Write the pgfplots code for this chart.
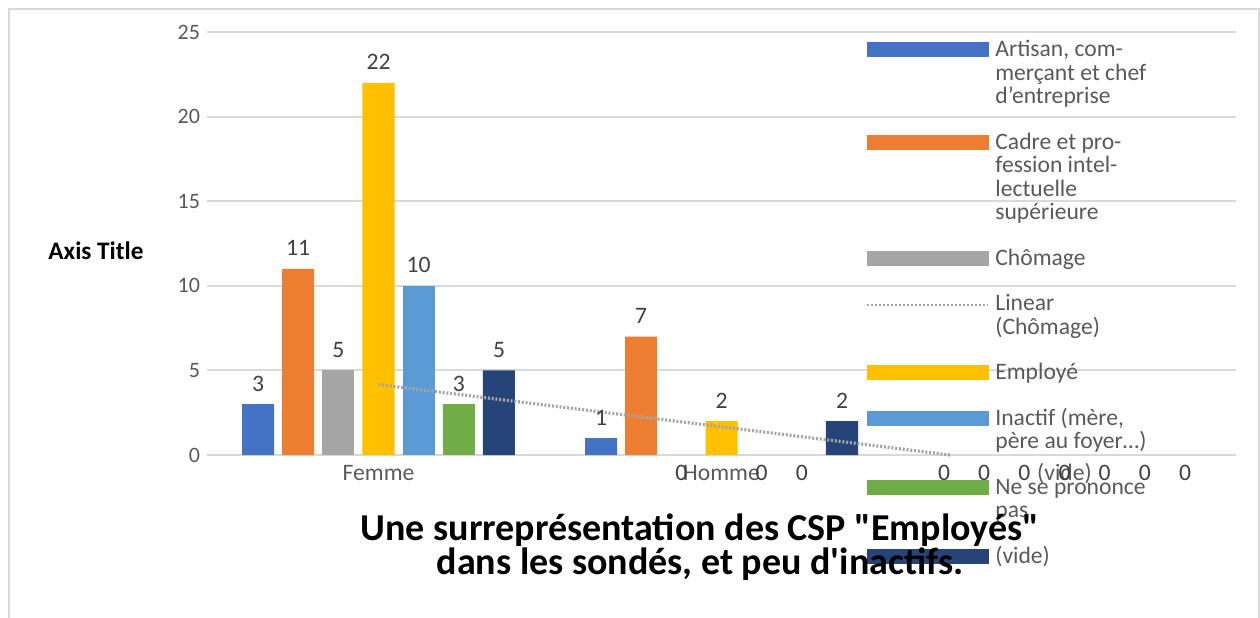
\documentclass[border=0pt]{standalone}
\usepackage{pgfplots}
\pgfplotsset{compat=1.18}
\usepackage{pgfplotstable}
\usepackage{fontspec}
\setmainfont{Carlito}[Ligatures=TeXOff]
\definecolor{c1}{HTML}{4472C4}
\definecolor{c2}{HTML}{ED7D31}
\definecolor{c3}{HTML}{A5A5A5}
\definecolor{c4}{HTML}{FFC000}
\definecolor{c5}{HTML}{5B9BD5}
\definecolor{c6}{HTML}{70AD47}
\definecolor{c7}{HTML}{264478}
\definecolor{gridc}{HTML}{D9D9D9}
\definecolor{tickc}{HTML}{595959}
\definecolor{labc}{HTML}{404040}
\newcommand{\LS}{\rule[-3.25pt]{0pt}{11.75pt}}
\newcommand{\Lt}[1]{\hbox{\LS\smash{#1}}}
\newcommand{\legtext}[1]{\parbox[t]{110pt}{\fontsize{11.8}{11.75}\selectfont\lineskip=0pt\lineskiplimit=-20pt #1}}
\pgfplotstableread{
x Artisan Cadre Chomage Employe Inactif NSP Vide
1 3 11 5 22 10 3 5
2 1 7 0 2 0 0 2
3 0 0 0 0 0 0 0
}\data
\pgfplotstableread{
x y
1 4.1667
2 1.6667
2.6667 0
}\trend
\pgfplotsset{
  lbl/.style={draw=none, fill=none, forget plot, nodes near coords,
    visualization depends on={rawy \as \rawy},
    every node near coord/.append style={anchor=base, inner sep=0pt,
      font=\fontsize{11.8}{13}\selectfont, text=labc,
      yshift={ifthenelse(\rawy==0,-12.5,6.5)}}},
  bars/.style={fill=#1, draw=none, forget plot, y filter/.expression={y==0 ? nan : y}},
  sw/.style={legend image code/.code={\fill[#1] (0pt,0pt) rectangle (60.5pt,7pt);}},
}
\begin{document}
\begin{tikzpicture}
\useasboundingbox (0,0) rectangle (630pt,308.5pt);
\draw[gridc, line width=0.75pt] (4.5pt,-10pt) -- (4.5pt,304pt) -- (629.5pt,304pt) -- (629.5pt,-10pt);
\begin{axis}[
  at={(103.5pt,81pt)}, anchor=south west,
  width=514.5pt, height=211.5pt, scale only axis,
  ybar, bar width=0.0933,
  xmin=0.5, xmax=3.5, ymin=0, ymax=25,
  xtick={1,2,3}, xticklabels={Femme,Homme,(vide)},
  ytick={0,5,...,25},
  axis line style={draw=none},
  major tick length=0pt,
  ymajorgrids, grid style={gridc, line width=1pt},
  /pgf/number format/assume math mode=true,
  yticklabel style={font=\fontsize{11}{12}\selectfont, text=tickc},
  xticklabel style={font=\fontsize{11.8}{13}\selectfont, text=tickc},
  every x tick label/.append style={anchor=base, inner sep=0pt, yshift=-12.5pt},
  ylabel={Axis Title},
  every axis y label/.style={at={(rel axis cs:-0.1079,0.4823)}, anchor=center, font=\bfseries\fontsize{12.6}{15}\selectfont},
  legend style={at={(rel axis cs:0.6404,0.9818)}, anchor=north west, draw=none, fill=none,
    inner sep=0pt, outer sep=0pt, row sep=11pt, column sep=3pt,
    cells={anchor=base west},
    nodes={inner sep=0pt, text depth=, text=tickc}},
  clip=false,
]
\addplot[bars=c1, bar shift=-0.3513] table[x=x,y=Artisan]{\data};
\addplot[bars=c2, bar shift=-0.2342] table[x=x,y=Cadre]{\data};
\addplot[bars=c3, bar shift=-0.1171] table[x=x,y=Chomage]{\data};
\addplot[bars=c4, bar shift=0] table[x=x,y=Employe]{\data};
\addplot[bars=c5, bar shift=0.1171] table[x=x,y=Inactif]{\data};
\addplot[bars=c6, bar shift=0.2342] table[x=x,y=NSP]{\data};
\addplot[bars=c7, bar shift=0.3513] table[x=x,y=Vide]{\data};
\addplot[lbl, bar shift=-0.3513] table[x=x,y=Artisan]{\data};
\addplot[lbl, bar shift=-0.2342] table[x=x,y=Cadre]{\data};
\addplot[lbl, bar shift=-0.1171] table[x=x,y=Chomage]{\data};
\addplot[lbl, bar shift=0] table[x=x,y=Employe]{\data};
\addplot[lbl, bar shift=0.1171] table[x=x,y=Inactif]{\data};
\addplot[lbl, bar shift=0.2342] table[x=x,y=NSP]{\data};
\addplot[lbl, bar shift=0.3513] table[x=x,y=Vide]{\data};
\addplot[sharp plot, c3, line width=1.6pt, dash pattern=on 1pt off 0.9pt, forget plot] table[x=x,y=y]{\trend};
\addlegendimage{sw=c1}
\addlegendentry{\legtext{\Lt{Artisan, com-}\Lt{merçant et chef}\Lt{d’entreprise}}}
\addlegendimage{sw=c2}
\addlegendentry{\legtext{\Lt{Cadre et pro-}\Lt{fession intel-}\Lt{lectuelle}\Lt{supérieure}}}
\addlegendimage{sw=c3}
\addlegendentry{\legtext{\Lt{Chômage}}}
\addlegendimage{legend image code/.code={\draw[c3, line width=1.2pt, dash pattern=on 1pt off 1pt] (0pt,3pt) -- (60.5pt,3pt);}}
\addlegendentry{\legtext{\Lt{Linear}\Lt{(Chômage)}}}
\addlegendimage{sw=c4}
\addlegendentry{\legtext{\Lt{Employé}}}
\addlegendimage{sw=c5}
\addlegendentry{\legtext{\Lt{Inactif (mère,}\Lt{père au foyer…)}}}
\addlegendimage{sw=c6}
\addlegendentry{\legtext{\Lt{Ne se prononce}\Lt{pas}}}
\addlegendimage{sw=c7}
\addlegendentry{\legtext{\Lt{(vide)}}}
\end{axis}
\node[anchor=base, inner sep=0pt] at (350pt,38.5pt) {\parbox[t]{440pt}{\centering\bfseries\fontsize{19}{17}\selectfont Une surreprésentation des CSP "Employés"\\dans les sondés, et peu d'inactifs.}};
\end{tikzpicture}
\end{document}
